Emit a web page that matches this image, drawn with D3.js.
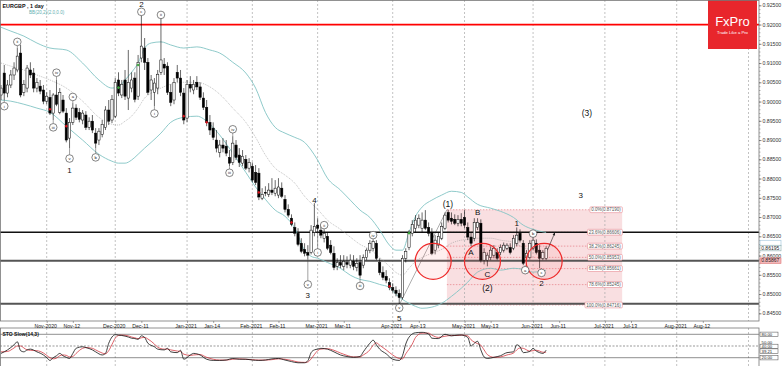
<!DOCTYPE html>
<html><head><meta charset="utf-8">
<script src="https://cdn.jsdelivr.net/npm/d3@7"></script>
<style>
body{margin:0;background:#fff}
svg{display:block}
text{font-family:"Liberation Sans",Arial,sans-serif}
</style>
</head><body>
<svg id="c" width="782" height="366"></svg>
<script>
// ---------- DATA ----------
const startIndex = -14; // trading-day index of first candle (0 = 2 Nov 2020)
const candles = [ // [open, high, low, close]
[0.9017,0.9043,0.9004,0.9035],[0.9074,0.9095,0.9004,0.9022],[0.9022,0.9056,0.9011,0.9043],[0.9043,0.9082,0.9035,0.9069],
[0.9069,0.9102,0.9056,0.9087],[0.9082,0.9139,0.9076,0.9118],[0.9126,0.9147,0.9011,0.9017],[0.9024,0.9056,0.9014,0.9045],
[0.9035,0.9095,0.9024,0.9087],[0.9082,0.9102,0.9061,0.9069],[0.9074,0.9087,0.9024,0.9035],[0.9035,0.9061,0.9024,0.9050],
[0.9040,0.9056,0.9019,0.9027],[0.9030,0.9043,0.8993,0.9001],
[0.9001,0.9024,0.8993,0.9014],[0.9011,0.9030,0.8965,0.8970],[0.8970,0.9022,0.8952,0.9017],[0.9017,0.9056,0.8988,0.8993],
[0.8972,0.9035,0.8967,0.9024],[0.9004,0.9017,0.8970,0.8975],[0.8970,0.8983,0.8894,0.8900],[0.8905,0.8957,0.8879,0.8946],
[0.8946,0.8996,0.8939,0.8983],[0.8983,0.8993,0.8952,0.8959],[0.8972,0.8983,0.8946,0.8954],[0.8952,0.8978,0.8941,0.8970],
[0.8965,0.8975,0.8926,0.8933],[0.8933,0.8959,0.8926,0.8949],[0.8949,0.8965,0.8918,0.8926],[0.8918,0.8931,0.8879,0.8892],
[0.8900,0.8931,0.8887,0.8923],[0.8915,0.8952,0.8907,0.8941],[0.8933,0.8988,0.8926,0.8978],[0.8978,0.9004,0.8939,0.8949],
[0.8952,0.9017,0.8944,0.9006],[0.8962,0.9061,0.8957,0.9050],[0.9056,0.9076,0.9014,0.9022],[0.9017,0.9056,0.9009,0.9045],
[0.9056,0.9082,0.9004,0.9014],[0.9009,0.9134,0.8978,0.9050],[0.9035,0.9076,0.9024,0.9056],[0.9061,0.9076,0.8998,0.9006],
[0.9014,0.9121,0.9004,0.9102],[0.9113,0.9225,0.9102,0.9144],[0.9139,0.9165,0.9082,0.9102],[0.9102,0.9113,0.9017,0.9024],
[0.9030,0.9069,0.9004,0.9056],[0.9024,0.9061,0.8988,0.9048],[0.9035,0.9082,0.9019,0.9071],[0.9076,0.9217,0.9069,0.9108],
[0.9097,0.9113,0.9069,0.9087],[0.9092,0.9102,0.9017,0.9024],[0.9024,0.9045,0.8988,0.8998],[0.9004,0.9061,0.8993,0.9050],
[0.9076,0.9095,0.9050,0.9061],[0.9061,0.9082,0.9014,0.9024],[0.9022,0.9035,0.8941,0.8952],[0.8957,0.9056,0.8946,0.9045],
[0.9045,0.9066,0.9024,0.9035],[0.9030,0.9056,0.9019,0.9045],[0.9050,0.9066,0.9030,0.9038],[0.9038,0.9050,0.9004,0.9011],
[0.9009,0.9024,0.8978,0.8985],[0.8985,0.9004,0.8936,0.8946],[0.8946,0.8965,0.8913,0.8926],[0.8931,0.8946,0.8900,0.8907],
[0.8900,0.8926,0.8868,0.8879],[0.8868,0.8900,0.8855,0.8887],[0.8887,0.8905,0.8868,0.8879],[0.8884,0.8900,0.8858,0.8866],
[0.8855,0.8874,0.8832,0.8840],[0.8842,0.8910,0.8835,0.8892],[0.8887,0.8900,0.8848,0.8855],[0.8861,0.8879,0.8830,0.8842],
[0.8840,0.8874,0.8832,0.8858],[0.8850,0.8861,0.8822,0.8827],[0.8827,0.8853,0.8816,0.8842],[0.8832,0.8842,0.8790,0.8796],
[0.8816,0.8835,0.8783,0.8790],[0.8814,0.8827,0.8744,0.8752],[0.8749,0.8775,0.8744,0.8759],[0.8764,0.8780,0.8754,0.8762],
[0.8759,0.8788,0.8752,0.8770],[0.8770,0.8801,0.8757,0.8764],[0.8762,0.8796,0.8754,0.8775],[0.8757,0.8801,0.8749,0.8778],
[0.8775,0.8790,0.8749,0.8754],[0.8746,0.8757,0.8712,0.8720],[0.8720,0.8733,0.8699,0.8705],[0.8697,0.8707,0.8676,0.8681],
[0.8673,0.8686,0.8650,0.8658],[0.8658,0.8671,0.8624,0.8629],[0.8632,0.8645,0.8606,0.8611],[0.8616,0.8632,0.8598,0.8606],
[0.8608,0.8627,0.8590,0.8601],[0.8608,0.8679,0.8603,0.8666],[0.8660,0.8736,0.8650,0.8676],[0.8679,0.8697,0.8660,0.8671],
[0.8666,0.8679,0.8645,0.8653],[0.8645,0.8668,0.8634,0.8658],[0.8650,0.8660,0.8614,0.8619],[0.8627,0.8640,0.8603,0.8608],
[0.8606,0.8624,0.8562,0.8569],[0.8572,0.8593,0.8562,0.8582],[0.8582,0.8601,0.8567,0.8575],[0.8572,0.8601,0.8562,0.8585],
[0.8582,0.8598,0.8567,0.8577],[0.8575,0.8603,0.8567,0.8588],[0.8585,0.8601,0.8562,0.8572],[0.8569,0.8593,0.8559,0.8580],
[0.8582,0.8601,0.8541,0.8549],[0.8575,0.8603,0.8567,0.8595],[0.8595,0.8619,0.8588,0.8614],[0.8614,0.8640,0.8606,0.8632],
[0.8619,0.8642,0.8611,0.8637],[0.8632,0.8640,0.8588,0.8593],[0.8582,0.8593,0.8549,0.8556],[0.8556,0.8572,0.8536,0.8543],
[0.8546,0.8562,0.8528,0.8536],[0.8530,0.8541,0.8510,0.8517],[0.8517,0.8528,0.8504,0.8510],[0.8510,0.8520,0.8494,0.8502],
[0.8502,0.8512,0.8473,0.8491],[0.8491,0.8601,0.8486,0.8593],[0.8593,0.8619,0.8582,0.8611],[0.8621,0.8666,0.8614,0.8658],
[0.8658,0.8692,0.8650,0.8681],[0.8671,0.8705,0.8660,0.8692],[0.8679,0.8707,0.8671,0.8697],[0.8671,0.8712,0.8660,0.8692],
[0.8692,0.8718,0.8666,0.8671],[0.8673,0.8686,0.8650,0.8658],[0.8660,0.8671,0.8601,0.8606],[0.8614,0.8653,0.8603,0.8640],
[0.8627,0.8660,0.8619,0.8650],[0.8645,0.8686,0.8640,0.8676],[0.8671,0.8712,0.8666,0.8705],[0.8712,0.8719,0.8686,0.8692],
[0.8697,0.8712,0.8681,0.8689],[0.8694,0.8707,0.8679,0.8684],[0.8684,0.8705,0.8676,0.8694],[0.8694,0.8710,0.8676,0.8684],
[0.8699,0.8718,0.8671,0.8679],[0.8673,0.8686,0.8640,0.8648],[0.8648,0.8660,0.8624,0.8632],[0.8645,0.8697,0.8637,0.8686],
[0.8673,0.8697,0.8666,0.8686],[0.8684,0.8694,0.8582,0.8588],[0.8588,0.8619,0.8577,0.8608],[0.8588,0.8608,0.8572,0.8601],
[0.8595,0.8624,0.8588,0.8614],[0.8601,0.8627,0.8593,0.8619],[0.8608,0.8619,0.8588,0.8593],[0.8608,0.8629,0.8601,0.8621],
[0.8614,0.8634,0.8608,0.8627],[0.8619,0.8632,0.8614,0.8627],[0.8621,0.8632,0.8603,0.8608],[0.8619,0.8653,0.8614,0.8645],
[0.8632,0.8673,0.8624,0.8653],[0.8658,0.8668,0.8634,0.8640],[0.8632,0.8640,0.8575,0.8580],[0.8595,0.8614,0.8588,0.8606],
[0.8595,0.8640,0.8590,0.8632],[0.8619,0.8648,0.8614,0.8640],[0.8632,0.8642,0.8603,0.8608],[0.8614,0.8627,0.8567,0.8593],
[0.8593,0.8614,0.8588,0.8608],[0.8593,0.8624,0.8588,0.8619]
];
// Bollinger Bands (20,2): [index, price]
const bbUpper = [[-14,0.9193],[-11,0.9183],[-7,0.9170],[-3,0.9152],[1,0.9139],[6,0.9134],[11,0.9100],[16,0.9056],[20,0.9035],[22,0.9038],[24,0.9056],[26,0.9076],[28,0.9100],[30,0.9139],[32,0.9152],[35,0.9155],[38,0.9147],[42,0.9139],[46,0.9142],[50,0.9134],[53,0.9126],[57,0.9102],[61,0.9074],[64,0.9035],[67,0.8972],[70,0.8933],[73,0.8918],[76,0.8907],[79,0.8894],[81,0.8874],[83,0.8848],[86,0.8801],[90,0.8770],[93,0.8744],[96,0.8718],[99,0.8699],[102,0.8666],[105,0.8627],[107,0.8614],[109,0.8614],[111,0.8660],[113,0.8702],[115,0.8726],[118,0.8744],[121,0.8757],[124,0.8767],[127,0.8764],[129,0.8752],[132,0.8733],[136,0.8723],[139,0.8715],[143,0.8699],[146,0.8679],[149,0.8668],[153,0.8660]];
const bbMiddle = [[-14,0.9100],[-11,0.9092],[-7,0.9082],[-3,0.9069],[1,0.9056],[6,0.9035],[11,0.9001],[16,0.8959],[20,0.8941],[22,0.8939],[24,0.8949],[26,0.8962],[28,0.8983],[30,0.9009],[32,0.9022],[35,0.9035],[38,0.9045],[42,0.9050],[46,0.9050],[50,0.9038],[53,0.9019],[57,0.8983],[61,0.8946],[64,0.8907],[67,0.8861],[70,0.8827],[73,0.8809],[76,0.8788],[79,0.8754],[81,0.8736],[83,0.8720],[86,0.8692],[90,0.8668],[93,0.8648],[96,0.8629],[99,0.8616],[102,0.8595],[105,0.8572],[107,0.8556],[109,0.8549],[111,0.8567],[113,0.8585],[115,0.8595],[118,0.8606],[121,0.8616],[124,0.8632],[127,0.8640],[129,0.8642],[132,0.8645],[136,0.8645],[139,0.8640],[143,0.8634],[146,0.8621],[149,0.8614],[153,0.8611]];
const bbLower = [[-14,0.9004],[-11,0.9001],[-7,0.8993],[-3,0.8983],[1,0.8972],[6,0.8936],[11,0.8900],[16,0.8863],[20,0.8845],[22,0.8840],[24,0.8840],[26,0.8848],[28,0.8863],[30,0.8879],[32,0.8894],[35,0.8918],[38,0.8946],[42,0.8959],[46,0.8962],[50,0.8941],[53,0.8913],[57,0.8866],[61,0.8816],[64,0.8778],[67,0.8746],[70,0.8718],[73,0.8702],[76,0.8671],[79,0.8614],[81,0.8598],[83,0.8593],[86,0.8582],[90,0.8567],[93,0.8549],[96,0.8538],[99,0.8533],[102,0.8525],[105,0.8517],[107,0.8499],[109,0.8486],[111,0.8476],[113,0.8468],[115,0.8463],[118,0.8466],[121,0.8476],[124,0.8494],[127,0.8515],[129,0.8531],[132,0.8557],[136,0.8567],[139,0.8562],[143,0.8567],[146,0.8564],[149,0.8557],[153,0.8562]];
const redDots = [[1,0.8980],[6,0.8936],[42,0.8962],[49,0.8946],[65,0.8764],[75,0.8686],[105,0.8520]];
const greenDots = [[22,0.9036],[28,0.9095],[111,0.8658]];
// Stochastic slow (14,3): [index, value]
const stoK = [[-14,31],[-12,40],[-10,53],[-9,61],[-8,38],[-7,35],[-6,40],[-5,42],[-3,35],[-1,27],[0,20],[1,13],[2,20],[3,25],[4,31],[5,25],[6,21],[7,18],[8,31],[9,44],[11,48],[12,46],[14,40],[15,35],[17,27],[18,31],[19,57],[20,73],[21,79],[22,78],[23,77],[25,73],[26,70],[27,69],[28,67],[29,76],[30,72],[31,57],[33,48],[34,42],[36,40],[37,44],[38,35],[40,33],[41,39],[42,16],[44,27],[45,31],[47,27],[49,16],[51,13],[53,13],[55,14],[57,18],[59,16],[61,16],[63,14],[65,13],[67,14],[69,17],[71,18],[73,14],[75,10],[77,7],[79,7],[80,12],[81,33],[82,40],[83,42],[84,44],[86,42],[88,35],[90,27],[92,23],[94,21],[96,23],[97,35],[99,57],[100,65],[101,53],[102,42],[104,30],[106,16],[108,13],[109,25],[110,55],[112,81],[113,84],[115,85],[117,81],[118,70],[120,69],[122,80],[124,76],[126,78],[127,78],[129,72],[130,50],[131,57],[132,62],[133,40],[134,22],[135,18],[137,21],[139,25],[141,33],[143,35],[144,53],[145,48],[146,33],[148,36],[149,44],[150,37],[151,33],[152,31],[153,39.21]];
const stoD = [[-14,35],[-12,36],[-10,45],[-9,50],[-8,50],[-7,45],[-6,40],[-5,39],[-3,38],[-1,32],[0,26],[1,20],[2,17],[3,19],[4,25],[5,27],[6,26],[7,22],[8,23],[9,31],[11,44],[12,46],[14,44],[15,40],[17,32],[18,30],[19,38],[20,54],[21,70],[22,77],[23,78],[25,76],[26,73],[27,71],[28,69],[29,71],[30,72],[31,68],[33,55],[34,47],[36,42],[37,42],[38,40],[40,37],[41,36],[42,29],[44,26],[45,27],[47,28],[49,21],[51,16],[53,14],[55,14],[57,16],[59,17],[61,16],[63,15],[65,14],[67,14],[69,15],[71,17],[73,16],[75,13],[77,9],[79,8],[80,9],[81,17],[82,28],[83,38],[84,42],[86,43],[88,39],[90,32],[92,26],[94,22],[96,22],[97,27],[99,40],[100,52],[101,58],[102,52],[104,40],[106,27],[108,18],[109,17],[110,30],[112,55],[113,72],[115,83],[117,83],[118,78],[120,72],[122,75],[124,77],[126,77],[127,78],[129,76],[130,66],[131,60],[132,56],[133,52],[134,40],[135,28],[137,21],[139,22],[141,27],[143,32],[144,40],[145,45],[146,44],[148,37],[149,38],[150,39],[151,37],[152,34],[153,34]];
// axis ticks
const priceTicks = [0.845,0.850,0.855,0.860,0.865,0.870,0.875,0.880,0.885,0.890,0.895,0.900,0.905,0.910,0.915,0.920,0.925];
const dateTickIdx = [0,8,21,29,43,51,63,71,83,91,106,114,128,136,149,157,171,179,193,201];
const dateTickLabels = ["Nov-2020","Nov-12","Dec-2020","Dec-11","Jan-2021","Jan-14","Feb-2021","Feb-11","Mar-2021","Mar-11","Apr-2021","Apr-13","May-2021","May-13","Jun-2021","Jun-11","Jul-2021","Jul-13","Aug-2021","Aug-12"];
const monthStartIdx = [0,21,43,63,83,106,128,149,171,193,215];
// horizontal levels
const redLevel = 0.92000;
const blackLevel = 0.86606;
const grayLevels = [0.85867, 0.8475];
// Fibonacci retracement
const fibStart = [108, 0.84716], fibEnd = [122.6, 0.87190], fibRightIdx = 176.3;
const fibPct = ["0.0","23.6","38.2","50.0","61.8","78.6","100.0"];
const fibPrice = [0.87190,0.86606,0.86245,0.85953,0.85661,0.85245,0.84716];
// red circles [index, price]
const circles = [[118.4,0.8585],[133.5,0.8585],[152.4,0.8585]];
// Elliott wave labels: text, index, price, circled, anchor candle
const waves = [
 {t:"ii",i:-9,p:0.9155,c:1},{t:"i",i:-13,p:0.8988,c:1},{t:"iv",i:3,p:0.9075,c:1},{t:"iii",i:2,p:0.8933,c:1},
 {t:"a",i:8,p:0.9012,c:1},{t:"v",i:7,p:0.8852,c:1},{t:"1",i:7,p:0.8821,c:0},{t:"b",i:15,p:0.8855,c:1},
 {t:"c",i:29,p:0.9233,c:1},{t:"2",i:29,p:0.9254,c:0},{t:"ii",i:35,p:0.9225,c:1},{t:"i",i:33,p:0.8969,c:1},
 {t:"iv",i:57,p:0.8928,c:1},{t:"iii",i:56,p:0.8815,c:1},{t:"4",i:82,p:0.8743,c:0},{t:"ii",i:85,p:0.8679,c:1},
 {t:"i",i:83,p:0.8608,c:1},{t:"v",i:80,p:0.8525,c:1},{t:"3",i:80,p:0.8497,c:0},{t:"iv",i:100,p:0.8653,c:1},
 {t:"iii",i:96,p:0.8521,c:1},{t:"v",i:108,p:0.8464,c:1},{t:"5",i:108,p:0.8439,c:0},
 {t:"(1)",i:122.9,p:0.8733,c:0},{t:"B",i:132,p:0.8713,c:0},{t:"A",i:130,p:0.8609,c:0},{t:"C",i:135,p:0.8552,c:0},
 {t:"(2)",i:135,p:0.8517,c:0},{t:"1",i:144,p:0.8685,c:0},{t:"b",i:149,p:0.8657,c:1},{t:"a",i:146.6,p:0.8562,c:1,a:146},
 {t:"c",i:151.6,p:0.8555,c:1,a:151},{t:"2",i:151.6,p:0.8529,c:0},{t:"3",i:163.6,p:0.8757,c:0},{t:"(3)",i:165.5,p:0.8970,c:0}
];
const arrowFrom = [153.4,0.8614], arrowTo = [155.7,0.8660];
const bidLabel = "0.86195", bidPrice = 0.86195;
const lineLabel = "0.85867";
const stoLabels = [["80.00",80,1],["50.00",58,0],["40.00",49,1],["39.21",37,1],["20.00",20,1]];

// ---------- LAYOUT ----------
const W = 782, H = 366, plotR = 759, mainB = 321, stoT = 328;
const svg = d3.select("#c");
const x = d3.scaleLinear().domain([0,215]).range([46.7,748.5]);
const y = d3.scaleLinear().domain([0.845,0.925]).range([313.3,5.3]);
const ys = d3.scaleLinear().domain([0,100]).range([365.5,326.5]);

const defs = svg.append("defs");
defs.append("clipPath").attr("id","cm").append("rect").attr("x",0).attr("y",0).attr("width",plotR).attr("height",mainB);
defs.append("clipPath").attr("id","cs").append("rect").attr("x",0).attr("y",stoT).attr("width",plotR).attr("height",H-stoT);

svg.append("rect").attr("width",W).attr("height",H).attr("fill","#fff");
const gm = svg.append("g").attr("clip-path","url(#cm)");
const gs = svg.append("g").attr("clip-path","url(#cs)");

// fib rectangle
gm.append("rect").attr("x",x(fibEnd[0])).attr("y",y(fibPrice[0]))
  .attr("width",x(fibRightIdx)-x(fibEnd[0])).attr("height",y(fibPrice[6])-y(fibPrice[0]))
  .attr("fill","#f9dfe1");

// vertical grid
monthStartIdx.forEach(i=>{
  gm.append("line").attr("x1",x(i)).attr("x2",x(i)).attr("y1",0).attr("y2",mainB)
    .attr("stroke","#a8a8a8").attr("stroke-width",0.7).attr("stroke-dasharray","2,2");
  gs.append("line").attr("x1",x(i)).attr("x2",x(i)).attr("y1",stoT).attr("y2",H)
    .attr("stroke","#a8a8a8").attr("stroke-width",0.7).attr("stroke-dasharray","2,2");
});

// fib dotted levels
fibPrice.forEach((p,k)=>{
  gm.append("line").attr("x1",x(fibEnd[0])).attr("x2",x(fibRightIdx)-28).attr("y1",y(p)).attr("y2",y(p))
    .attr("stroke","#e36b75").attr("stroke-width",0.6).attr("stroke-dasharray","1.5,1.5");
});
// fib diagonal
gm.append("line").attr("x1",x(fibStart[0])).attr("y1",y(fibStart[1])).attr("x2",x(fibEnd[0])).attr("y2",y(fibEnd[1]))
  .attr("stroke","#777").attr("stroke-width",0.6);

// horizontal levels
gm.append("line").attr("x1",0).attr("x2",plotR).attr("y1",y(redLevel)).attr("y2",y(redLevel)).attr("stroke","#ff0000").attr("stroke-width",1.8);
gm.append("line").attr("x1",0).attr("x2",plotR).attr("y1",y(blackLevel)).attr("y2",y(blackLevel)).attr("stroke","#111").attr("stroke-width",1.4);
grayLevels.forEach(p=>gm.append("line").attr("x1",0).attr("x2",plotR).attr("y1",y(p)).attr("y2",y(p)).attr("stroke","#555").attr("stroke-width",2));

// Bollinger
const bbLine = d3.line().x(d=>x(d[0])).y(d=>y(d[1])).curve(d3.curveMonotoneX);
gm.append("path").attr("d",bbLine(bbUpper)).attr("fill","none").attr("stroke","#82c4c4").attr("stroke-width",0.9);
gm.append("path").attr("d",bbLine(bbLower)).attr("fill","none").attr("stroke","#82c4c4").attr("stroke-width",0.9);
gm.append("path").attr("d",bbLine(bbMiddle)).attr("fill","none").attr("stroke","#9a9a9a").attr("stroke-width",0.6).attr("stroke-dasharray","1,1");

// candles
const cw = 2.3;
const cd = candles.map((d,k)=>({i:startIndex+k,o:d[0],h:d[1],l:d[2],c:d[3]}));
const gc = gm.append("g");
gc.selectAll("line.w").data(cd).join("line").attr("class","w")
  .attr("x1",d=>x(d.i)).attr("x2",d=>x(d.i)).attr("y1",d=>y(d.h)).attr("y2",d=>y(d.l))
  .attr("stroke","#000").attr("stroke-width",0.6);
gc.selectAll("rect.b").data(cd).join("rect").attr("class","b")
  .attr("x",d=>x(d.i)-cw/2).attr("width",cw)
  .attr("y",d=>y(Math.max(d.o,d.c))).attr("height",d=>Math.max(0.7,Math.abs(y(d.o)-y(d.c))))
  .attr("fill",d=>d.c>=d.o?"#fff":"#000").attr("stroke","#000").attr("stroke-width",0.5);

// dots
const dia = (cx,cy,col)=>gm.append("path").attr("d",`M${cx},${cy-1.6}L${cx+1.6},${cy}L${cx},${cy+1.6}L${cx-1.6},${cy}Z`).attr("fill",col);
redDots.forEach(d=>dia(x(d[0]),y(d[1]),"#d8141c"));
greenDots.forEach(d=>dia(x(d[0]),y(d[1]),"#3aa63a"));

// red circles
circles.forEach(d=>gm.append("circle").attr("cx",x(d[0])).attr("cy",y(d[1])).attr("r",18)
  .attr("fill","rgba(255,120,120,0.12)").attr("stroke","#ee2a2a").attr("stroke-width",1.2));

// fib labels
fibPrice.forEach((p,k)=>{
  const t = `${fibPct[k]}%(${p.toFixed(5)})`;
  const g = gm.append("g");
  const tx = g.append("text").attr("x",x(fibRightIdx)-1.5).attr("y",y(p)+1.6).attr("text-anchor","end")
    .attr("font-size",4.5).attr("fill","#555").text(t);
  const bb = tx.node().getBBox();
  g.insert("rect","text").attr("x",bb.x-1.2).attr("y",y(p)-2.9).attr("width",bb.width+2.4).attr("height",5.8)
    .attr("rx",1).attr("fill","#fff").attr("stroke","#e88b93").attr("stroke-width",0.6);
});

// wave labels
const R = 3.8;
waves.forEach(w=>{
  const cx = x(w.i), cy = y(w.p);
  if (w.c) {
    const k = (w.a!==undefined?w.a:Math.round(w.i)) - startIndex;
    const cnd = candles[k];
    if (cnd) {
      if (w.p > cnd[1]) { const y1 = cy+R, y2 = y(cnd[1]); if (y2-y1>0.5) gm.append("line").attr("x1",cx).attr("x2",cx).attr("y1",y1).attr("y2",y2).attr("stroke","#444").attr("stroke-width",0.5); }
      else if (w.p < cnd[2]) { const y1 = y(cnd[2]), y2 = cy-R; if (y2-y1>0.5) gm.append("line").attr("x1",cx).attr("x2",cx).attr("y1",y1).attr("y2",y2).attr("stroke","#444").attr("stroke-width",0.5); }
    }
    gm.append("circle").attr("cx",cx).attr("cy",cy).attr("r",R).attr("fill","#fff").attr("stroke","#333").attr("stroke-width",0.6);
    gm.append("text").attr("x",cx).attr("y",cy+1.4).attr("text-anchor","middle").attr("font-size",4.2)
      .attr("font-family","Liberation Serif").attr("fill","#222").text(w.t);
  } else {
    gm.append("text").attr("x",cx).attr("y",cy+3).attr("text-anchor","middle").attr("font-size",/\(/.test(w.t)?8.5:8)
      .attr("fill","#111").text(w.t);
  }
});
// arrow
gm.append("line").attr("x1",x(arrowFrom[0])).attr("y1",y(arrowFrom[1])).attr("x2",x(arrowTo[0])).attr("y2",y(arrowTo[1])).attr("stroke","#222").attr("stroke-width",0.6);
{
  const ax2=x(arrowTo[0]), ay2=y(arrowTo[1]);
  const ang=Math.atan2(ay2-y(arrowFrom[1]), ax2-x(arrowFrom[0]));
  const s=3.2, a1=ang+2.7, a2=ang-2.7;
  gm.append("path").attr("d",`M${ax2},${ay2}L${ax2+s*Math.cos(a1)},${ay2+s*Math.sin(a1)}L${ax2+s*Math.cos(a2)},${ay2+s*Math.sin(a2)}Z`).attr("fill","#222");
}

// titles
svg.append("text").attr("x",2.5).attr("y",8).attr("font-size",5.4).attr("font-weight","bold").attr("fill","#111").text("EURGBP , 1 day");
svg.append("text").attr("x",29).attr("y",13.6).attr("font-size",4.6).attr("fill","#5fb0b0").text("BB(20,2)(2.0,0.0)");

// logo
svg.append("rect").attr("x",708).attr("y",0).attr("width",49).attr("height",49).attr("fill","#e8262c");
svg.append("text").attr("x",732.5).attr("y",26).attr("text-anchor","middle").attr("font-size",13).attr("font-family","Liberation Serif").attr("fill","#fff").text("FxPro");
svg.append("text").attr("x",732.5).attr("y",33.5).attr("text-anchor","middle").attr("font-size",4.2).attr("fill","#fff").text("Trade Like a Pro");

// frames
svg.append("rect").attr("x",0.5).attr("y",0.5).attr("width",plotR-0.5).attr("height",mainB-0.5).attr("fill","none").attr("stroke","#777").attr("stroke-width",0.8);
svg.append("rect").attr("x",0.5).attr("y",stoT).attr("width",plotR-0.5).attr("height",H-stoT+2).attr("fill","none").attr("stroke","#777").attr("stroke-width",0.8);

// price axis
const pAx = svg.append("g").attr("transform",`translate(${plotR},0)`)
  .call(d3.axisRight(y).tickValues(priceTicks).tickFormat(d3.format(".5f")).tickSize(2.5).tickPadding(1));
pAx.select(".domain").remove();
pAx.selectAll("text").attr("font-size",5.2).attr("fill","#333").attr("font-family","Liberation Sans");
pAx.selectAll("line").attr("stroke","#444").attr("stroke-width",0.6);
const minor = svg.append("g").attr("transform",`translate(${plotR},0)`)
  .call(d3.axisRight(y).tickValues(d3.range(845,926).map(v=>v/1000)).tickFormat("").tickSize(1.5));
minor.select(".domain").remove();
minor.selectAll("line").attr("stroke","#666").attr("stroke-width",0.5);

// price tags
function tag(py, txt, fill, stroke){
  const g = svg.append("g");
  g.append("rect").attr("x",plotR+1).attr("y",py-2.8).attr("width",21).attr("height",5.6).attr("fill",fill).attr("stroke",stroke).attr("stroke-width",0.6);
  if (txt) g.append("text").attr("x",plotR+2.2).attr("y",py+1.8).attr("font-size",5).attr("fill","#222").text(txt);
}
tag(y(bidPrice)-5, "", "#fff", "#9cc3da");
tag(y(bidPrice), bidLabel, "#fff", "#8aa");
tag(y(grayLevels[0]), lineLabel, "#f4b6b8", "#d77");

// date axis
const dAx = svg.append("g").attr("transform",`translate(0,${mainB})`)
  .call(d3.axisBottom(x).tickValues(dateTickIdx).tickFormat((d,k)=>dateTickLabels[k]).tickSize(2).tickPadding(1));
dAx.select(".domain").remove();
dAx.selectAll("text").attr("font-size",5.2).attr("fill","#222").attr("dx",-1.5).attr("font-family","Liberation Sans");
dAx.selectAll("line").attr("stroke","#555").attr("stroke-width",0.5);

// stochastic panel
[80,20].forEach(v=>gs.append("line").attr("x1",0).attr("x2",plotR).attr("y1",ys(v)).attr("y2",ys(v)).attr("stroke","#444").attr("stroke-width",0.6));
gs.append("line").attr("x1",0).attr("x2",plotR).attr("y1",ys(50)).attr("y2",ys(50)).attr("stroke","#555").attr("stroke-width",0.6).attr("stroke-dasharray","2,1.5");
const sl = d3.line().x(d=>x(d[0])).y(d=>ys(d[1])).curve(d3.curveMonotoneX);
gs.append("path").attr("d",sl(stoD)).attr("fill","none").attr("stroke","#d0202a").attr("stroke-width",0.7);
gs.append("path").attr("d",sl(stoK)).attr("fill","none").attr("stroke","#111").attr("stroke-width",0.8);
svg.append("text").attr("x",2.5).attr("y",335.5).attr("font-size",5).attr("font-weight","bold").attr("fill","#111").text("STO Slow(14,3)");
stoLabels.forEach(s=>{
  const py = ys(s[1]);
  if (s[2]) svg.append("rect").attr("x",plotR+1).attr("y",py-2.2).attr("width",18).attr("height",4.4).attr("fill","#fff").attr("stroke","#444").attr("stroke-width",0.5);
  svg.append("text").attr("x",plotR+2.5).attr("y",py+1.5).attr("font-size",4.3).attr("fill","#222").text(s[0]);
});
</script>
</body></html>
